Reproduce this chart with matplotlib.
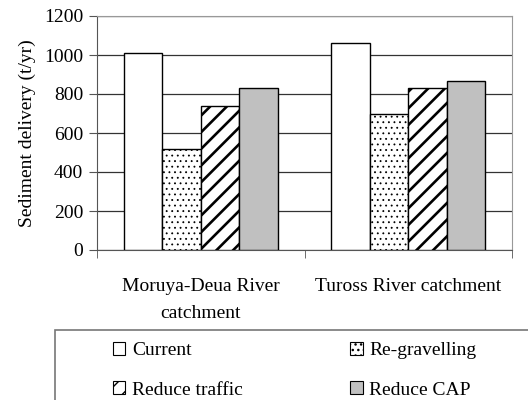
import matplotlib
matplotlib.use("Agg")
import matplotlib.pyplot as plt
from matplotlib.patches import Patch, Rectangle
import numpy as np

categories = ["Moruya-Deua River\ncatchment", "Tuross River catchment"]
series_names = ["Current", "Re-gravelling", "Reduce traffic", "Reduce CAP"]
current = [1010, 1060]
regravelling = [520, 695]
reduce_traffic = [738, 830]
reduce_cap = [830, 865]
yticks = [0, 200, 400, 600, 800, 1000, 1200]

series = [current, regravelling, reduce_traffic, reduce_cap]
faces = ["white", "white", "white", "#c0c0c0"]
hatches = [None, "...", "//", None]
hatch_lw = [1.0, 0.6, 1.9, 1.0]

plt.rcParams["font.family"] = ["Liberation Serif", "DejaVu Serif"]
plt.rcParams["font.size"] = 14


def set_hlw(p, lw):
    if hasattr(p, "set_hatch_linewidth"):
        p.set_hatch_linewidth(lw)


fig = plt.figure(figsize=(5.28, 4.0), dpi=100)
ax = fig.add_axes([97/528, 1-250/400, (512-97)/528, (250-16)/400])

x = np.arange(len(categories)) + 0.5
w = 0.186
for i, (vals, fc, h) in enumerate(zip(series, faces, hatches)):
    with plt.rc_context({"hatch.linewidth": hatch_lw[i]}):
        bars = ax.bar(x + (i - 1.5) * w, vals, width=w, color=fc, edgecolor="black",
                      linewidth=1.0, hatch=h, label=series_names[i], zorder=3)
    for b in bars:
        set_hlw(b, hatch_lw[i])

ax.set_xlim(0, 2)
ax.set_ylim(0, 1200)
ax.set_yticks(yticks)
ax.yaxis.grid(True, color="#333333", linewidth=0.9, zorder=0)
ax.set_axisbelow(True)
ax.set_xticks(x)
ax.set_xticklabels(categories, linespacing=1.75)
ax.tick_params(axis="x", which="major", length=0, pad=20)
ax.set_xticks([0, 1, 2], minor=True)
ax.tick_params(axis="x", which="minor", length=6, direction="out", color="#555555")
ax.tick_params(axis="y", length=6, direction="out", color="#555555", pad=4)
for s in ["top", "right"]:
    ax.spines[s].set_color("#999999")
for s in ["left", "bottom"]:
    ax.spines[s].set_color("#555555")
ax.set_ylabel("Sediment delivery (t/yr)", labelpad=6)

fig.patches.append(Rectangle((55/528, -0.5), 1.0, 0.5 + (1-330/400),
                             transform=fig.transFigure, fill=False,
                             edgecolor="#777777", linewidth=1.2))

# legend filled column-wise: reorder so rows read Current/Re-gravelling, Reduce traffic/Reduce CAP
order = [0, 2, 1, 3]
handles = []
for k in order:
    with plt.rc_context({"hatch.linewidth": hatch_lw[k]}):
        hp = Patch(facecolor=faces[k], edgecolor="black", hatch=hatches[k], linewidth=0.8)
    set_hlw(hp, hatch_lw[k])
    handles.append(hp)
labels = [series_names[k] for k in order]
fig.legend(handles, labels, ncol=2, frameon=False,
           loc="upper left", bbox_to_anchor=(105/528, 1-334/400),
           handlelength=0.65, handleheight=0.65, handletextpad=0.35,
           columnspacing=5.5, labelspacing=1.15, borderaxespad=0)

fig.savefig("out.png", dpi=100)
